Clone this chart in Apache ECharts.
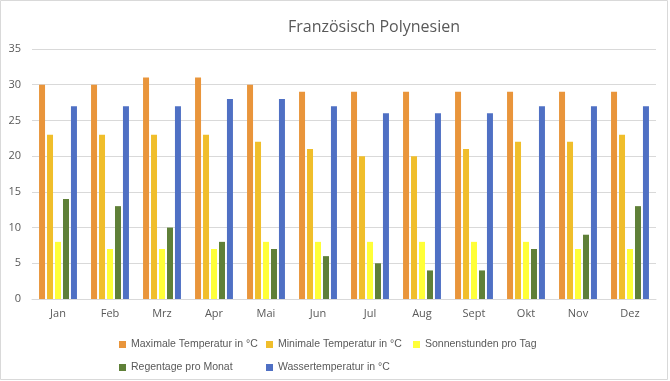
<!DOCTYPE html>
<html>
<head>
<meta charset="utf-8">
<script src="https://cdn.jsdelivr.net/npm/echarts@6/dist/echarts.min.js"></script>
<style>html,body{margin:0;padding:0;background:#fff}#c{width:670px;height:381px}</style>
</head>
<body>
<div id="c"></div>
<script>
var months = ['Jan','Feb','Mrz','Apr','Mai','Jun','Jul','Aug','Sept','Okt','Nov','Dez'];
var seriesNames = ['Maximale Temperatur in °C','Minimale Temperatur in °C','Sonnenstunden pro Tag','Regentage pro Monat','Wassertemperatur in °C'];
var maxTemp = [30,30,31,31,30,29,29,29,29,29,29,29];
var minTemp = [23,23,23,23,22,21,20,20,21,22,22,23];
var sunHours = [8,7,7,7,8,8,8,8,8,8,7,7];
var rainDays = [14,13,10,8,7,6,5,4,4,7,9,13];
var waterTemp = [27,27,27,28,28,27,26,26,26,27,27,27];
var yTicks = [0,5,10,15,20,25,30,35];

var colors = ['#E9953B','#F0BE2B','#FFFF38','#5F8038','#4F70C4'];
var values = [maxTemp,minTemp,sunHours,rainDays,waterTemp];
var legendPos = [[114,334],[261,334],[408,334],[114,357],[261,357]];
var font = 'Open Sans, Liberation Sans, sans-serif';
var legendFont = 'Liberation Sans, Arial, sans-serif';

var chart = echarts.init(document.getElementById('c'));
chart.setOption({
  animation: false,
  color: colors,
  title: {
    text: 'Französisch Polynesien',
    left: 369, top: 14, textAlign: 'center',
    textStyle: {fontFamily: font, fontSize: 16, fontWeight: 'normal', color: '#595959'}
  },
  graphic: [{type:'rect', shape:{x:0.5,y:0.5,width:667,height:379}, style:{fill:'none', stroke:'#D9D9D9', lineWidth:1}, silent:true}],
  legend: seriesNames.map(function(n,i){
    return {data:[n], left: legendPos[i][0], top: legendPos[i][1], itemWidth:7, itemHeight:7, icon:'rect',
      textStyle:{fontFamily: legendFont, fontSize: 10.5, color:'#595959'}, selectedMode:false};
  }),
  grid: {left: 32, right: 14, top: 49, bottom: 82, containLabel: false},
  xAxis: {
    type: 'category', data: months,
    axisLine: {lineStyle: {color: '#D9D9D9'}},
    axisTick: {show: false},
    axisLabel: {color: '#595959', fontFamily: font, fontSize: 11, margin: 9}
  },
  yAxis: {
    type: 'value', min: yTicks[0], max: yTicks[yTicks.length-1], interval: 5,
    axisLine: {show: false}, axisTick: {show: false},
    axisLabel: {color: '#595959', fontFamily: font, fontSize: 11, margin: 11},
    splitLine: {lineStyle: {color: '#D9D9D9'}}
  },
  series: seriesNames.map(function(n,i){
    return {name: n, type: 'bar', data: values[i], barWidth: 6, barGap: '33%', barCategoryGap: '27%'};
  })
});
</script>
</body>
</html>
